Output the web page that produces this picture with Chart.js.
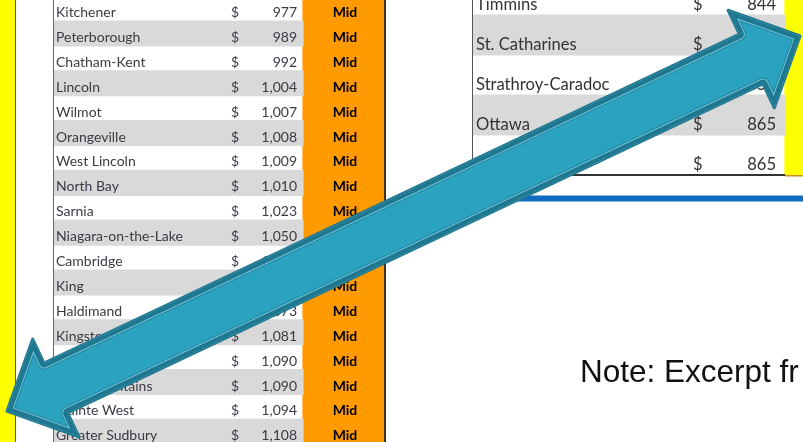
<!DOCTYPE html>
<html>
<head>
<meta charset="utf-8">
<script src="https://cdn.jsdelivr.net/npm/chart.js@4.4.1/dist/chart.umd.min.js"></script>
<style>
  html, body { margin: 0; padding: 0; background: #fff; }
  canvas { display: block; }
</style>
</head>
<body>
<canvas id="chart" width="803" height="442"></canvas>
<script>
// left table excerpt (sorted by average, "Mid" tier)
const leftNames = ['Kitchener', 'Peterborough', 'Chatham-Kent', 'Lincoln', 'Wilmot', 'Orangeville', 'West Lincoln', 'North Bay', 'Sarnia', 'Niagara-on-the-Lake', 'Cambridge', 'King', 'Haldimand', 'Kingston', 'Brantford', 'Blue Mountains', 'Quinte West', 'Greater Sudbury'];
const leftValues = [977, 989, 992, 1004, 1007, 1008, 1009, 1010, 1023, 1050, 1061, 1066, 1073, 1081, 1090, 1090, 1094, 1108];
const leftTiers = ['Mid', 'Mid', 'Mid', 'Mid', 'Mid', 'Mid', 'Mid', 'Mid', 'Mid', 'Mid', 'Mid', 'Mid', 'Mid', 'Mid', 'Mid', 'Mid', 'Mid', 'Mid'];

// right table excerpt ("Low" tier)
const rightNames = ['Timmins', 'St. Catharines', 'Strathroy-Caradoc', 'Ottawa', 'Thunder Bay'];
const rightValues = [844, 851, 858, 865, 865];
const rightTiers = ['Low', 'Low', 'Low', 'Low', 'Low'];

const noteText = 'Note: Excerpt fr';

// page layout, in page units (803 x 442)
const W = 803, H = 442;
const L = { left: 54, tier: 303, right: 384, name: 56, dollar: 231, value: 297, tierMid: 345, firstRowBottom: 21, rowH: 24.9 };
const R = { left: 473, tier: 785, right: 830, name: 476, dollar: 693, value: 776, firstRowBottom: 15, rowH: 40 };
const tierColors = { Mid: '#ff9a00', Low: '#ffff00' };
const arrowEnds = [[7, 411], [800, 36]];

const fmt = v => v.toLocaleString('en-US');
const rowMin = t => (t.rowH / 2 - t.firstRowBottom) / t.rowH;

const pagePlugin = {
    id: 'page',
    beforeDatasetsDraw(chart) {
        const ctx = chart.ctx;
        const px = v => chart.scales.x.getPixelForValue(v);
        const py = v => chart.scales.yP.getPixelForValue(v);
        ctx.save();
        ctx.fillStyle = '#fff';
        ctx.fillRect(0, 0, chart.width, chart.height);
        // yellow strip on the left edge
        ctx.fillStyle = '#ffff00';
        ctx.fillRect(px(0), py(0), px(15) - px(0), py(H) - py(0));
        ctx.fillStyle = '#555';
        ctx.fillRect(px(15), py(0), 1, py(H) - py(0));
        ctx.restore();
    },
    afterDatasetsDraw(chart) {
        const ctx = chart.ctx;
        const px = v => chart.scales.x.getPixelForValue(v);
        const py = v => chart.scales.yP.getPixelForValue(v);
        const yL = chart.scales.yL, yR = chart.scales.yR;
        ctx.save();

        // left table text, bottom aligned in each row
        leftNames.forEach((name, i) => {
            const base = yL.getPixelForValue(i + 0.5) - 4;
            ctx.font = '14px Lato';
            ctx.fillStyle = '#3b3a45';
            ctx.textAlign = 'left';
            ctx.fillText(name, px(L.name), base);
            ctx.fillText('$', px(L.dollar), base);
            ctx.textAlign = 'right';
            ctx.fillText(fmt(leftValues[i]), px(L.value), base);
            ctx.font = 'bold 14px Lato';
            ctx.fillStyle = '#000';
            ctx.textAlign = 'center';
            ctx.fillText(leftTiers[i], px(L.tierMid), base);
        });

        // right table text
        rightNames.forEach((name, i) => {
            const base = yR.getPixelForValue(i + 0.5) - 5;
            ctx.font = '16.6px Lato';
            ctx.fillStyle = '#333';
            ctx.textAlign = 'left';
            ctx.fillText(name, px(R.name), base);
            ctx.fillText('$', px(R.dollar), base);
            ctx.textAlign = 'right';
            ctx.fillText(fmt(rightValues[i]), px(R.value), base);
        });

        // table borders
        ctx.fillStyle = '#666';
        ctx.fillRect(px(53), py(0), 1, py(H) - py(0));
        ctx.fillStyle = '#3d3128';
        ctx.fillRect(px(L.right), py(0), 2, py(H) - py(0));
        const rBottom = yR.getPixelForValue(rightNames.length - 0.5);
        ctx.fillStyle = '#555';
        ctx.fillRect(px(472), py(0), 1, rBottom - py(0));
        ctx.fillStyle = '#333';
        ctx.fillRect(px(472), rBottom - 1, px(R.tier) - px(472), 2);
        ctx.fillStyle = '#d08a20';
        ctx.fillRect(px(R.tier), rBottom, px(W) - px(R.tier), 1.5);

        // note
        ctx.font = '31.5px "Liberation Sans"';
        ctx.fillStyle = '#111';
        ctx.textAlign = 'left';
        ctx.fillText(noteText, px(580), py(382));

        // double arrow over everything (outline, then bevel drawn inside by clipping)
        const a = { x: px(arrowEnds[0][0]), y: py(arrowEnds[0][1]) };
        const b = { x: px(arrowEnds[1][0]), y: py(arrowEnds[1][1]) };
        const dx = b.x - a.x, dy = b.y - a.y, len = Math.hypot(dx, dy);
        const ux = dx / len, uy = dy / len, nx = -uy, ny = ux;
        const P = (t, s) => [a.x + ux * t + nx * s, a.y + uy * t + ny * s];
        const shaft = 27.5, headLen = 54, head = 54;
        const pts = [P(0, 0), P(headLen, -head), P(headLen, -shaft), P(len - headLen, -shaft), P(len - headLen, -head),
            P(len, 0), P(len - headLen, head), P(len - headLen, shaft), P(headLen, shaft), P(headLen, head)];
        ctx.beginPath();
        pts.forEach((p, i) => i ? ctx.lineTo(p[0], p[1]) : ctx.moveTo(p[0], p[1]));
        ctx.closePath();
        ctx.fillStyle = '#2ba2bf';
        ctx.fill();
        ctx.lineJoin = 'round';
        ctx.lineWidth = 3;
        ctx.strokeStyle = '#1f7890';
        ctx.stroke();
        ctx.clip();
        [[13, '#22859e'], [11, '#6cc3d8'], [9, '#1f7890']].forEach(([w, c]) => {
            ctx.lineWidth = w;
            ctx.strokeStyle = c;
            ctx.stroke();
        });

        ctx.restore();
    }
};

const barDefaults = { grouped: false, barPercentage: 1, categoryPercentage: 1, borderWidth: 0, inflateAmount: 0.6 };
const hiddenY = (min, max) => ({ type: 'linear', reverse: true, offset: false, grace: 0, min: min, max: max, display: false, ticks: { stepSize: 1, includeBounds: false } });

new Chart(document.querySelector('#chart').getContext('2d'), {
    type: 'bar',
    data: {
        datasets: [
            {
                ...barDefaults,
                label: 'left bands',
                yAxisID: 'yL',
                data: leftNames.map((n, i) => ({ y: i, x: [L.left, L.tier] })).filter(d => d.y % 2 === 1),
                backgroundColor: '#d9d9d9'
            },
            {
                ...barDefaults,
                label: 'left tier',
                yAxisID: 'yL',
                data: leftTiers.map((t, i) => ({ y: i, x: [L.tier, L.right] })),
                backgroundColor: leftTiers.map(t => tierColors[t])
            },
            {
                ...barDefaults,
                label: 'right bands',
                yAxisID: 'yR',
                data: rightNames.map((n, i) => ({ y: i, x: [R.left, R.tier] })).filter(d => d.y % 2 === 1),
                backgroundColor: '#d9d9d9'
            },
            {
                ...barDefaults,
                label: 'right tier',
                yAxisID: 'yR',
                data: rightTiers.map((t, i) => ({ y: i, x: [R.tier, R.right] })),
                backgroundColor: rightTiers.map(t => tierColors[t])
            },
            {
                ...barDefaults,
                label: 'rule',
                yAxisID: 'yP',
                barThickness: 5,
                data: [{ y: 198.5, x: [470, W] }],
                backgroundColor: '#0f6cc0'
            }
        ]
    },
    options: {
        indexAxis: 'y',
        responsive: false,
        animation: false,
        layout: { padding: 0 },
        plugins: { legend: { display: false }, tooltip: { enabled: false } },
        events: [],
        scales: {
            x: { type: 'linear', min: 0, max: W, display: false, offset: false },
            yL: hiddenY(rowMin(L), rowMin(L) + H / L.rowH),
            yR: hiddenY(rowMin(R), rowMin(R) + H / R.rowH),
            yP: { type: 'linear', reverse: true, offset: false, min: 0, max: H, display: false }
        }
    },
    plugins: [pagePlugin]
});
</script>
</body>
</html>
